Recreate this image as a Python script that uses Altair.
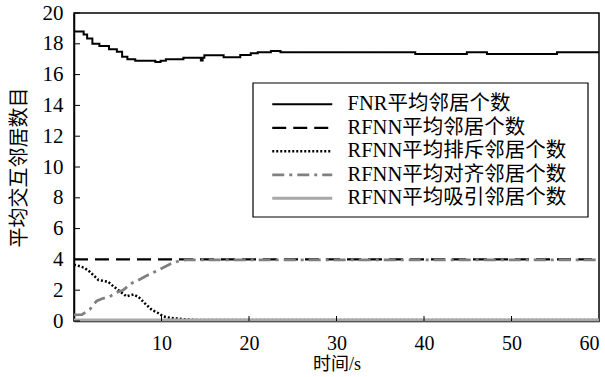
import altair as alt
import pandas as pd

FONT = "Liberation Serif, Noto Sans CJK SC"

series_names = ["FNR平均邻居个数", "RFNN平均邻居个数", "RFNN平均排斥邻居个数",
                "RFNN平均对齐邻居个数", "RFNN平均吸引邻居个数"]
series_colors = ["#000000", "#000000", "#000000", "#808080", "#a8a8a8"]
series_dashes = [[1, 0], [14, 7], [2, 2], [12, 5, 3, 5], [1, 0]]
series_widths = [2, 3, 2.5, 3, 2.5]

fnr_t = [0, 1.1, 1.5, 2.1, 2.9, 4.0, 4.9, 5.5, 6.1, 7.0, 9.3, 9.9, 10.5, 12.5,
         14.5, 14.7, 14.9, 17.1, 19.0, 20.2, 21.0, 22.5, 23.6, 39.0, 44.9, 47.2, 55.2, 60]
fnr_v = [18.8, 18.6, 18.35, 18.0, 17.86, 17.64, 17.49, 17.16, 16.99, 16.9, 16.82, 16.9,
         16.99, 17.1, 16.92, 17.1, 17.25, 17.12, 17.27, 17.38, 17.45, 17.53, 17.45,
         17.34, 17.45, 17.34, 17.45, 17.45]

avg_t = [0, 60]
avg_v = [4.0, 4.0]

rep_t = [0, 0.3, 1.2, 1.8, 2.8, 3.9, 4.5, 5.2, 6.0, 6.8, 7.4, 8.1, 8.9, 9.6, 10.2,
         11.0, 12.5, 14, 60]
rep_v = [3.65, 3.62, 3.45, 3.2, 2.66, 2.55, 2.25, 1.95, 1.6, 1.72, 1.55, 1.15, 0.72,
         0.52, 0.3, 0.2, 0.12, 0.07, 0.07]

ali_t = [0, 0.9, 1.8, 2.6, 3.2, 4.1, 5.0, 5.6, 6.6, 7.5, 8.5, 9.8, 11.0, 12.0, 12.8, 60]
ali_v = [0.4, 0.42, 0.75, 1.3, 1.45, 1.6, 1.88, 2.0, 2.45, 2.7, 3.0, 3.35, 3.7, 3.9,
         3.97, 3.97]

att_t = [0, 60]
att_v = [0.06, 0.06]

x_ticks = [0, 10, 20, 30, 40, 50, 60]
y_ticks = [0, 2, 4, 6, 8, 10, 12, 14, 16, 18, 20]

fnr_df = pd.DataFrame({"t": fnr_t, "v": fnr_v, "series": series_names[0]})
rows = []
for name, ts, vs in [(series_names[1], avg_t, avg_v), (series_names[2], rep_t, rep_v),
                     (series_names[3], ali_t, ali_v), (series_names[4], att_t, att_v)]:
    for t, v in zip(ts, vs):
        rows.append({"t": t, "v": v, "series": name})
other_df = pd.DataFrame(rows)

W, H = 525, 308

x_axis = alt.Axis(values=x_ticks, title="时间/s",
                  labelExpr="datum.value == 0 ? '' : datum.label",
                  labelFlush=True, labelOverlap=False, labelFontSize=20,
                  labelPadding=12, titlePadding=2, titleFontSize=18)
y_axis = alt.Axis(values=y_ticks, title="平均交互邻居数目", labelOverlap=False,
                  labelPadding=11, titlePadding=13, titleFontSize=20)
x_enc = alt.X("t:Q", scale=alt.Scale(domain=[0, 60], nice=False), axis=x_axis)
y_enc = alt.Y("v:Q", scale=alt.Scale(domain=[0, 20], nice=False), axis=y_axis)

legend = alt.Legend(title=None, orient="none", legendX=193, legendY=81,
                    symbolType="M-1,0H11", symbolSize=100, labelLimit=0,
                    labelFontSize=20.5, labelFont=FONT, labelOffset=60,
                    rowPadding=2.5, padding=0, symbolStrokeWidth=2.5,
                    labelColor="black")
color_enc = alt.Color("series:N", scale=alt.Scale(domain=series_names, range=series_colors),
                      legend=legend, sort=series_names)
dash_enc = alt.StrokeDash("series:N", scale=alt.Scale(domain=series_names, range=series_dashes),
                          legend=legend, sort=series_names)
width_enc = alt.StrokeWidth("series:N", scale=alt.Scale(domain=series_names, range=series_widths),
                            legend=legend, sort=series_names)

others = alt.Chart(other_df).mark_line(interpolate="linear").encode(
    x=x_enc, y=y_enc, color=color_enc, strokeDash=dash_enc, strokeWidth=width_enc,
    detail="series:N")
fnr = alt.Chart(fnr_df).mark_line(interpolate="step-after").encode(
    x=x_enc, y=y_enc, color=color_enc, strokeDash=dash_enc, strokeWidth=width_enc)

ytick_df = pd.DataFrame({"v": y_ticks})
xtick_df = pd.DataFrame({"t": x_ticks[1:-1]})
yticks = alt.Chart(ytick_df).mark_rule(color="black", strokeWidth=1).encode(
    y=y_enc, x=alt.value(0), x2=alt.value(6))
xticks = alt.Chart(xtick_df).mark_rule(color="black", strokeWidth=1).encode(
    x=x_enc, y=alt.value(H), y2=alt.value(H - 5))

box = alt.Chart(pd.DataFrame({"k": [0]})).mark_rect(
    fill="white", stroke="black", strokeWidth=1.2).encode(
    x=alt.value(179), x2=alt.value(514), y=alt.value(70), y2=alt.value(204))

chart = alt.layer(others, fnr, yticks, xticks, box).properties(
    width=W, height=H,
    autosize=alt.AutoSizeParams(type="none"),
    padding={"left": 74, "top": 13, "right": 6, "bottom": 56},
    background="white",
).configure_view(stroke="black", strokeWidth=1.5).configure_axis(
    grid=False, ticks=False, domainColor="black", domainWidth=1.5,
    labelFont=FONT, titleFont=FONT, labelFontSize=21, titleFontSize=20,
    labelColor="black", titleColor="black", titleFontWeight="normal",
)

chart.save("out.html", embed_options={"renderer": "svg", "actions": False})
